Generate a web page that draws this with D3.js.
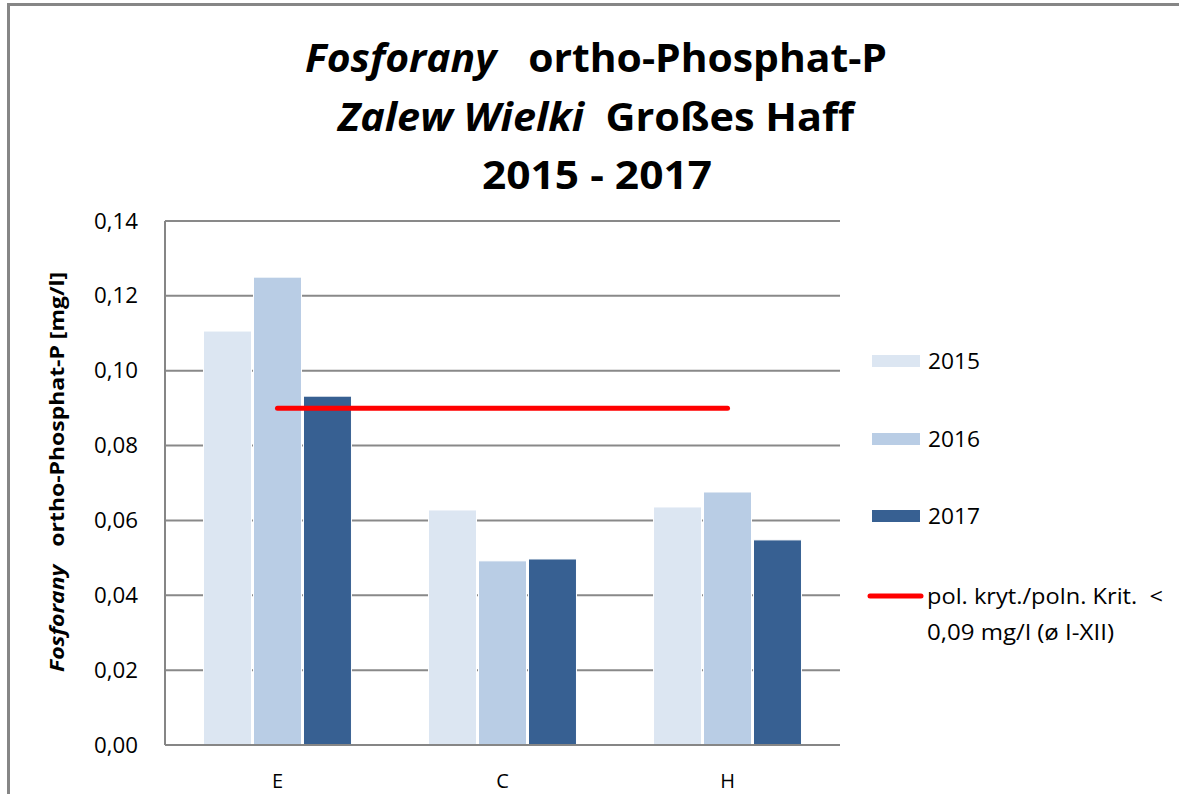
<!DOCTYPE html>
<html><head><meta charset="utf-8">
<script src="https://cdn.jsdelivr.net/npm/d3@7"></script>
<style>body{margin:0;background:#fff}svg{display:block}text{font-family:"Open Sans","Noto Sans",sans-serif}</style>
</head><body>
<svg id="c" width="1179" height="794"></svg>
<script>
const categories = ["E", "C", "H"];
const years = ["2015", "2016", "2017"];
const values2015 = [0.1106, 0.0628, 0.0636];
const values2016 = [0.1250, 0.0492, 0.0676];
const values2017 = [0.0932, 0.0497, 0.0548];
const criterion = 0.09;
const yTicks = [0, 0.02, 0.04, 0.06, 0.08, 0.10, 0.12, 0.14];
const colors = ["#dce6f2", "#b9cde5", "#376092"];
const series = [values2015, values2016, values2017];

const svg = d3.select("#c");
// outer border
svg.append("path").attr("d", "M8.5,800 V4.5 H1185").attr("fill","none").attr("stroke","#868686").attr("stroke-width",3);

const L = 165, R = 840, T = 221, B = 745;
const x = d3.scaleBand().domain(categories).range([L, R]).paddingInner(0.3425).paddingOuter(0.1712);
const xs = d3.scaleBand().domain(years).range([0, x.bandwidth()]).paddingInner(0.04);
const y = d3.scaleLinear().domain([0, 0.14]).range([B, T]);

// gridlines
svg.append("g").selectAll("line").data(yTicks.filter(d=>d>0)).join("line")
  .attr("x1", L).attr("x2", R).attr("y1", d=>y(d)).attr("y2", d=>y(d))
  .attr("stroke", "#898989").attr("stroke-width", 2);

// y tick labels
svg.append("g").selectAll("text").data(yTicks).join("text")
  .attr("x", 138).attr("y", d=>y(d)).attr("dy","0.36em").attr("text-anchor","end")
  .attr("font-size", 21).attr("fill","#000")
  .attr("textLength", 44).attr("lengthAdjust","spacingAndGlyphs")
  .text(d=>d3.format(".2f")(d).replace(".", ","));

// bars
const g = svg.append("g");
series.forEach((vals, si) => {
  g.append("g").selectAll("rect").data(categories).join("rect")
    .attr("x", c => x(c) + xs(years[si]))
    .attr("y", (c,i) => y(vals[i]))
    .attr("width", xs.bandwidth())
    .attr("height", (c,i) => B - y(vals[i]))
    .attr("fill", colors[si]).attr("stroke","#fff").attr("stroke-width",1);
});

// axes lines
svg.append("line").attr("x1", L).attr("x2", L).attr("y1", T).attr("y2", B).attr("stroke","#868686").attr("stroke-width",2);
svg.append("line").attr("x1", L).attr("x2", R).attr("y1", B).attr("y2", B).attr("stroke","#868686").attr("stroke-width",2);

// x labels
svg.append("g").selectAll("text").data(categories).join("text")
  .attr("x", c => x(c) + x.bandwidth()/2).attr("y", 781).attr("dy","0.36em")
  .attr("text-anchor","middle").attr("font-size",20).text(c=>c);

// criterion line
svg.append("line")
  .attr("x1", x("E") + x.bandwidth()/2).attr("x2", x("H") + x.bandwidth()/2)
  .attr("y1", y(criterion)).attr("y2", y(criterion))
  .attr("stroke","#ff0000").attr("stroke-width",5).attr("stroke-linecap","round");

// title
const title = svg.append("g").attr("font-weight","bold").attr("font-size",40).attr("text-anchor","middle");
const t1 = title.append("text").attr("x", 596).attr("y", 72).attr("textLength", 582).attr("lengthAdjust","spacingAndGlyphs");
t1.append("tspan").attr("font-style","italic").text("Fosforany");
t1.append("tspan").attr("xml:space","preserve").text("   ortho-Phosphat-P");
const t2 = title.append("text").attr("x", 596).attr("y", 131).attr("textLength", 516).attr("lengthAdjust","spacingAndGlyphs");
t2.append("tspan").attr("font-style","italic").text("Zalew Wielki");
t2.append("tspan").attr("xml:space","preserve").text("  Großes Haff");
title.append("text").attr("x", 597).attr("y", 189).attr("textLength", 230).attr("lengthAdjust","spacingAndGlyphs").text("2015 - 2017");

// y axis title
const yt = svg.append("text").attr("transform","translate(64,472) rotate(-90)")
  .attr("text-anchor","middle").attr("font-weight","bold").attr("font-size",20)
  .attr("textLength", 400).attr("lengthAdjust","spacingAndGlyphs");
yt.append("tspan").attr("font-style","italic").text("Fosforany");
yt.append("tspan").attr("xml:space","preserve").text("   ortho-Phosphat-P [mg/l]");

// legend
const legY = [361, 439, 516];
const leg = svg.append("g");
years.forEach((yr, i) => {
  leg.append("rect").attr("x", 872).attr("y", legY[i]-6).attr("width", 48).attr("height", 12).attr("fill", colors[i]);
  leg.append("text").attr("x", 928).attr("y", legY[i]).attr("dy","0.36em").attr("font-size",22)
    .attr("textLength", 52).attr("lengthAdjust","spacingAndGlyphs").text(yr);
});
leg.append("line").attr("x1", 870).attr("x2", 921).attr("y1", 596).attr("y2", 596)
  .attr("stroke","#ff0000").attr("stroke-width",5).attr("stroke-linecap","round");
leg.append("text").attr("x", 927).attr("y", 596).attr("dy","0.36em").attr("font-size",21).attr("xml:space","preserve")
  .attr("textLength", 236).attr("lengthAdjust","spacingAndGlyphs").text("pol. kryt./poln. Krit.  <");
leg.append("text").attr("x", 927).attr("y", 632).attr("dy","0.36em").attr("font-size",21)
  .attr("textLength", 187).attr("lengthAdjust","spacingAndGlyphs").text("0,09 mg/l (ø I-XII)");
</script>
</body></html>
